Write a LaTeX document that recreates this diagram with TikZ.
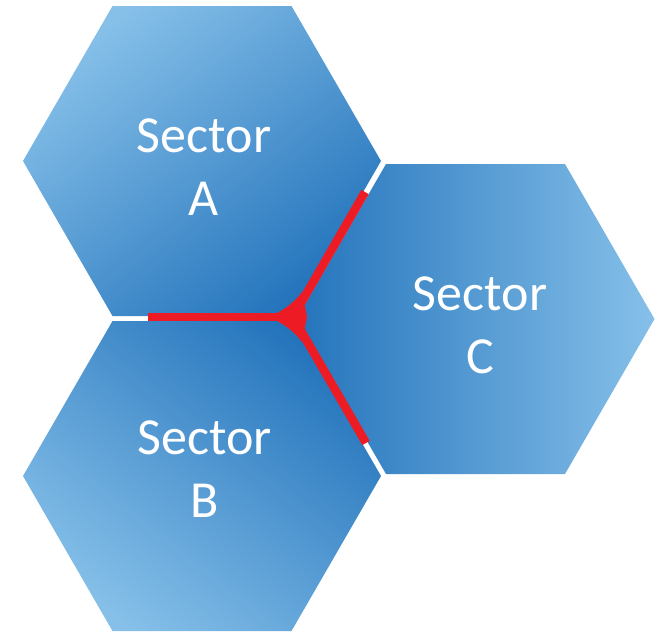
\documentclass[tikz,border=0pt]{standalone}
\usepackage{fontspec}
\setmainfont{Carlito}
\definecolor{hexlight}{HTML}{86C0E9}
\definecolor{hexdark}{HTML}{2474BC}
\definecolor{seamred}{HTML}{ED1C24}
\begin{document}
\begin{tikzpicture}[x=1pt,y=-1pt,
  hexlabel/.style={text=white,align=center,font=\fontsize{52}{63}\selectfont,inner sep=0pt},
  seam/.style={draw=seamred,line width=8.5pt}]
\useasboundingbox (0,0) rectangle (661,632);
% hexagons: r = 179, half height = 155
\def\hexpath#1#2{(#1+179,#2) -- (#1+89.5,#2+155) -- (#1-89.5,#2+155) -- (#1-179,#2) -- (#1-89.5,#2-155) -- (#1+89.5,#2-155) -- cycle}
\shade[top color=hexlight,bottom color=hexdark,shading angle=38] \hexpath{202}{161};
\shade[top color=hexlight,bottom color=hexdark,shading angle=142] \hexpath{202}{476};
\shade[left color=hexdark,right color=hexlight] \hexpath{475.5}{319};
% labels
\node[hexlabel] (la) at (204,167.5) {Sector\\A};
\node[hexlabel] (lb) at (204.5,469.5) {Sector\\B};
\node[hexlabel] (lc) at (480,325.5) {Sector\\C};
% red seams
\coordinate (j) at (293,317);
\coordinate (sw) at (148,317);
\coordinate (sn) at (365,192);
\coordinate (ss) at (366,443);
\draw[seam] (sw) -- (j);
\draw[seam] (j) -- (sn);
\draw[seam] (j) -- (ss);
\fill[seamred] (268,317) .. controls (282,312) and (295,302) .. (302,292) -- (307,317) -- (302,342) .. controls (295,332) and (282,322) .. (268,317) -- cycle;
\end{tikzpicture}
\end{document}
